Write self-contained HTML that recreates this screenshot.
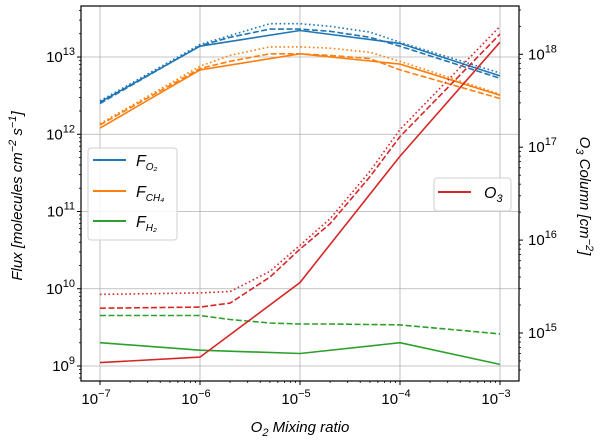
<!DOCTYPE html>
<html><head><meta charset="utf-8"><style>
body{margin:0;background:#fff;}
svg{display:block;font-family:"Liberation Sans","DejaVu Sans",sans-serif;}
</style></head><body>
<svg id="chart" width="600" height="444" viewBox="0 0 600 444" xmlns="http://www.w3.org/2000/svg">
<g id="grid"></g>
<g id="series"></g>
<g id="axes"></g>
<g id="legend-left">
  <rect x="88" y="148" width="89" height="92" rx="3" fill="#fff" fill-opacity="0.85" stroke="#d0d0d0"/>
  <line x1="93" y1="160" x2="126" y2="160" stroke="#1f77b4" stroke-width="2"/>
  <text x="136" y="166" font-size="16" font-style="italic">F<tspan font-size="10" dy="4">O₂</tspan></text>
  <line x1="93" y1="191" x2="126" y2="191" stroke="#ff7f0e" stroke-width="2"/>
  <text x="136" y="197" font-size="16" font-style="italic">F<tspan font-size="10" dy="4">CH₄</tspan></text>
  <line x1="93" y1="221" x2="126" y2="221" stroke="#2ca02c" stroke-width="2"/>
  <text x="136" y="227" font-size="16" font-style="italic">F<tspan font-size="10" dy="4">H₂</tspan></text>
</g>
<g id="legend-right">
  <rect x="434" y="178" width="77" height="33" rx="3" fill="#fff" fill-opacity="0.85" stroke="#d0d0d0"/>
  <line x1="438" y1="192" x2="471" y2="192" stroke="#d62728" stroke-width="2"/>
  <text x="484" y="198" font-size="16" font-style="italic">O<tspan font-size="11" dy="4">3</tspan></text>
</g>
</svg>
<script>
const xValues=[1e-7,1e-6,1e-5,1e-4,1e-3];
const xDense=[1e-7,1e-6,2e-6,5e-6,1e-5,2e-5,5e-5,1e-4,1e-3];
const fO2Solid=[2.6e12,1.38e13,2.2e13,1.5e13,5.7e12];
const fO2Dashed=[2.5e12,1.4e13,1.8e13,2.3e13,2.3e13,2.15e13,1.8e13,1.38e13,5.3e12];
const fO2Dotted=[2.7e12,1.45e13,1.9e13,2.7e13,2.7e13,2.5e13,2.1e13,1.55e13,6.2e12];
const fCH4Solid=[1.2e12,6.8e12,1.1e13,8.1e12,3.2e12];
const fCH4Dashed=[1.32e12,7.1e12,8.8e12,1.1e13,1.1e13,1.05e13,9.5e12,6.8e12,2.9e12];
const fCH4Dotted=[1.37e12,7.6e12,1.05e13,1.35e13,1.35e13,1.3e13,1.15e13,8.8e12,3.3e12];
const fH2Solid=[2.0e9,1.6e9,1.45e9,2.0e9,1.05e9];
const fH2Dashed=[4.5e9,4.5e9,4.0e9,3.6e9,3.5e9,3.5e9,3.45e9,3.4e9,2.6e9];
const o3Solid=[4.8e14,5.5e14,3.5e15,8.0e16,1.35e18];
const o3Dashed=[1.85e15,1.9e15,2.1e15,4.0e15,8.0e15,1.5e16,4.8e16,1.3e17,1.65e18];
const o3Dotted=[2.6e15,2.7e15,2.8e15,4.6e15,8.8e15,1.7e16,5.5e16,1.55e17,2.0e18];
const xTicks=[-7,-6,-5,-4,-3];
const yTicks=[9,10,11,12,13];
const y2Ticks=[15,16,17,18];

const NS="http://www.w3.org/2000/svg";
const X0=81,X1=519,Y0=6,Y1=381;
const xs=v=>100+(Math.log10(v)+7)*100;
const ys=v=>57+(13-Math.log10(v))*77.25;
const y2s=v=>333-(Math.log10(v)-15)*92.9;
function mk(tag,attrs,parent){const e=document.createElementNS(NS,tag);for(const k in attrs)e.setAttribute(k,attrs[k]);parent.appendChild(e);return e;}
const grid=document.getElementById('grid'),axes=document.getElementById('axes'),ser=document.getElementById('series');

xTicks.forEach(t=>{const x=xs(Math.pow(10,t));
  const g=mk('line',{x1:x,x2:x,y1:Y0,y2:Y1,stroke:'#b0b0b0','stroke-width':0.8},grid);
  
  
  mk('line',{x1:x,x2:x,y1:Y1,y2:Y1+4,stroke:'#000'},axes);
  const tx=mk('text',{x:x-4,y:Y1+23,'font-size':15,'text-anchor':'middle'},axes);
  
  
  tx.innerHTML='10<tspan font-size="11" dy="-7">−'+(-t)+'</tspan>';
});
for(let d=-7;d<-3;d++)for(let m=2;m<10;m++){const x=xs(m*Math.pow(10,d));mk('line',{x1:x,x2:x,y1:Y1,y2:Y1+2,stroke:'#000','stroke-width':0.8},axes);}
yTicks.forEach(t=>{const y=ys(Math.pow(10,t));
  const g=mk('line',{x1:X0,x2:X1,y1:y,y2:y,stroke:'#b0b0b0','stroke-width':0.8},grid);
  
  
  mk('line',{x1:X0-4,x2:X0,y1:y,y2:y,stroke:'#000'},axes);
  const tx=mk('text',{x:X0-6,y:y+5,'font-size':15,'text-anchor':'end'},axes);
  
  
  tx.innerHTML='10<tspan font-size="11" dy="-7">'+t+'</tspan>';
});
for(let d=8;d<14;d++)for(let m=2;m<10;m++){const y=ys(m*Math.pow(10,d));if(y>Y0&&y<Y1)mk('line',{x1:X0-2,x2:X0,y1:y,y2:y,stroke:'#000','stroke-width':0.8},axes);}
y2Ticks.forEach(t=>{const y=y2s(Math.pow(10,t));
  mk('line',{x1:X1,x2:X1+4,y1:y,y2:y,stroke:'#000'},axes);
  const tx=mk('text',{x:X1+9,y:y+5,'font-size':15},axes);
  
  
  tx.innerHTML='10<tspan font-size="11" dy="-7">'+t+'</tspan>';
});
for(let d=14;d<19;d++)for(let m=2;m<10;m++){const y=y2s(m*Math.pow(10,d));if(y>Y0&&y<Y1)mk('line',{x1:X1,x2:X1+2,y1:y,y2:y,stroke:'#000','stroke-width':0.8},axes);}
const fr=mk('rect',{x:X0,y:Y0,width:X1-X0,height:Y1-Y0,fill:'none',stroke:'#000','stroke-width':1.2},axes);



function line(xv,yv,sc,color,dash,name){
  const pts=xv.map((x,i)=>xs(x).toFixed(1)+','+sc(yv[i]).toFixed(1)).join(' ');
  const p=mk('polyline',{points:pts,fill:'none',stroke:color,'stroke-width':1.6},ser);
  if(dash)p.setAttribute('stroke-dasharray',dash);
  
  
}
const DASH='6,2.5',DOT='1.6,2.6';
line(xValues,fO2Solid,ys,'#1f77b4',null,'f-o2-solid');
line(xDense,fO2Dashed,ys,'#1f77b4',DASH,'f-o2-dashed');
line(xDense,fO2Dotted,ys,'#1f77b4',DOT,'f-o2-dotted');
line(xValues,fCH4Solid,ys,'#ff7f0e',null,'f-ch4-solid');
line(xDense,fCH4Dashed,ys,'#ff7f0e',DASH,'f-ch4-dashed');
line(xDense,fCH4Dotted,ys,'#ff7f0e',DOT,'f-ch4-dotted');
line(xValues,fH2Solid,ys,'#2ca02c',null,'f-h2-solid');
line(xDense,fH2Dashed,ys,'#2ca02c',DASH,'f-h2-dashed');
line(xValues,o3Solid,y2s,'#d62728',null,'o3-solid');
line(xDense,o3Dashed,y2s,'#d62728',DASH,'o3-dashed');
line(xDense,o3Dotted,y2s,'#d62728',DOT,'o3-dotted');

const xl=mk('text',{x:300,y:432,'font-size':15,'font-style':'italic','text-anchor':'middle'},axes);


xl.innerHTML='O<tspan font-size="11" dy="4">2</tspan><tspan dy="-4"> Mixing ratio</tspan>';
const yl=mk('text',{transform:'translate(22,196) rotate(-90)','font-size':15,'font-style':'italic','text-anchor':'middle'},axes);


yl.innerHTML='Flux [molecules cm<tspan font-size="11" dy="-6">−2</tspan><tspan dy="6"> s</tspan><tspan font-size="11" dy="-6">−1</tspan><tspan dy="6">]</tspan>';
const y2l=mk('text',{transform:'translate(580,196) rotate(90)','font-size':15,'font-style':'italic','text-anchor':'middle'},axes);


y2l.innerHTML='O<tspan font-size="11" dy="4">3</tspan><tspan dy="-4"> Column [cm</tspan><tspan font-size="11" dy="-6">−2</tspan><tspan dy="6">]</tspan>';
</script>
</body></html>
